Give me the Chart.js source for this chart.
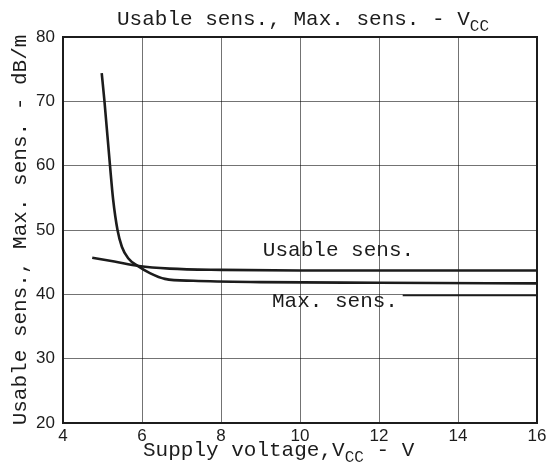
<!DOCTYPE html>
<html lang="en">
<head>
<meta charset="UTF-8">
<title>Usable sens., Max. sens. - VCC</title>
<script src="https://cdn.jsdelivr.net/npm/chart.js@4.4.1/dist/chart.umd.min.js"></script>
<style>
  html, body { margin: 0; padding: 0; background: #fff; }
  canvas { display: block; }
</style>
</head>
<body>
<canvas id="pizarra" width="557" height="470"></canvas>
<script>
// curves (x = supply voltage V, y = dB/m)
const usableX = [4.74, 5.3, 5.92, 6.7, 8, 10, 12, 14, 16]
const usableY = [45.7, 45.1, 44.4, 44.0, 43.8, 43.7, 43.7, 43.7, 43.7]

const maxX = [4.98, 5.05, 5.19, 5.27, 5.38, 5.49, 5.65, 5.92, 6.2, 6.58, 7.3, 9, 12, 16]
const maxY = [74.4, 70, 60, 54.7, 50, 47.4, 45.6, 44.3, 43.3, 42.4, 42.1, 41.9, 41.8, 41.7]

const xTicks = [4, 6, 8, 10, 12, 14, 16]
const yTicks = [20, 30, 40, 50, 60, 70, 80]

const MONO = '"Liberation Mono", "Courier New", monospace'
const INK = '#1c1c1c'

const pares = (xs, ys) => xs.map((x, i) => ({ x: x, y: ys[i] }))

// draws text with optional subscript parts: [[text, sub], ...]
const textoSub = (ctx, partes, x, y, size) => {
  let cx = x
  partes.forEach(([t, sub]) => {
    const s = sub ? Math.round(size * 0.78) : size
    ctx.font = s + 'px ' + MONO
    ctx.fillText(t, cx, sub ? y + size * 0.28 : y)
    cx += ctx.measureText(t).width
  })
}

const anchoSub = (ctx, partes, size) => {
  let w = 0
  partes.forEach(([t, sub]) => {
    ctx.font = (sub ? Math.round(size * 0.78) : size) + 'px ' + MONO
    w += ctx.measureText(t).width
  })
  return w
}

const rotulos = {
  id: 'rotulos',
  afterDraw(chart) {
    const ctx = chart.ctx
    const a = chart.chartArea
    const xs = chart.scales.x
    const ys = chart.scales.y
    ctx.save()

    // heavy frame
    ctx.strokeStyle = INK
    ctx.lineWidth = 2
    ctx.strokeRect(a.left, a.top, a.right - a.left, a.bottom - a.top)

    // leader line under "Max. sens."
    ctx.lineWidth = 1.8
    ctx.beginPath()
    ctx.moveTo(xs.getPixelForValue(12.6), ys.getPixelForValue(40) + 1)
    ctx.lineTo(a.right, ys.getPixelForValue(40) + 1)
    ctx.stroke()

    ctx.fillStyle = INK
    ctx.textBaseline = 'alphabetic'
    ctx.textAlign = 'left'

    // title
    textoSub(ctx, [['Usable sens., Max. sens. - V', false], ['CC', true]], 117, 25, 21)

    // x axis title
    textoSub(ctx, [['Supply voltage,V', false], ['CC', true], [' - V', false]], 143, 456, 21)

    // y axis title
    const ty = [['Usable sens., Max. sens. - dB/m', false]]
    const w = anchoSub(ctx, ty, 21)
    ctx.save()
    ctx.translate(26, (a.top + a.bottom) / 2)
    ctx.rotate(-Math.PI / 2)
    textoSub(ctx, ty, -w / 2, 0, 21)
    ctx.restore()

    // curve labels
    textoSub(ctx, [['Usable sens.', false]], xs.getPixelForValue(9.06), ys.getPixelForValue(45.96), 21)
    textoSub(ctx, [['Max. sens.', false]], xs.getPixelForValue(9.29), ys.getPixelForValue(38.0), 21)

    ctx.restore()
  }
}

const curva = (datos) => ({
  data: datos,
  showLine: true,
  borderColor: INK,
  borderWidth: 2.6,
  pointRadius: 0,
  cubicInterpolationMode: 'monotone',
  fill: false
})

const fuenteTicks = { family: '"Liberation Sans", Arial, sans-serif', size: 17 }

new Chart(document.getElementById('pizarra'), {
  type: 'scatter',
  data: {
    datasets: [curva(pares(usableX, usableY)), curva(pares(maxX, maxY))]
  },
  options: {
    responsive: false,
    animation: false,
    layout: { padding: { top: 37, right: 20, left: 0, bottom: 0 } },
    plugins: { legend: { display: false }, tooltip: { enabled: false } },
    scales: {
      x: {
        type: 'linear',
        min: xTicks[0],
        max: xTicks[xTicks.length - 1],
        afterBuildTicks: (s) => { s.ticks = xTicks.map(v => ({ value: v })) },
        afterFit: (s) => { s.height = 47 },
        grid: { color: 'rgba(0,0,0,0.55)', lineWidth: 1, drawTicks: false },
        border: { color: INK, width: 2 },
        ticks: { color: INK, font: fuenteTicks, padding: 3, maxRotation: 0 }
      },
      y: {
        type: 'linear',
        min: yTicks[0],
        max: yTicks[yTicks.length - 1],
        afterBuildTicks: (s) => { s.ticks = yTicks.map(v => ({ value: v })) },
        afterFit: (s) => { s.width = 63 },
        grid: { color: 'rgba(0,0,0,0.55)', lineWidth: 1, drawTicks: false },
        border: { color: INK, width: 2 },
        ticks: { color: INK, font: fuenteTicks, padding: 8 }
      }
    }
  },
  plugins: [rotulos]
})
</script>
</body>
</html>
